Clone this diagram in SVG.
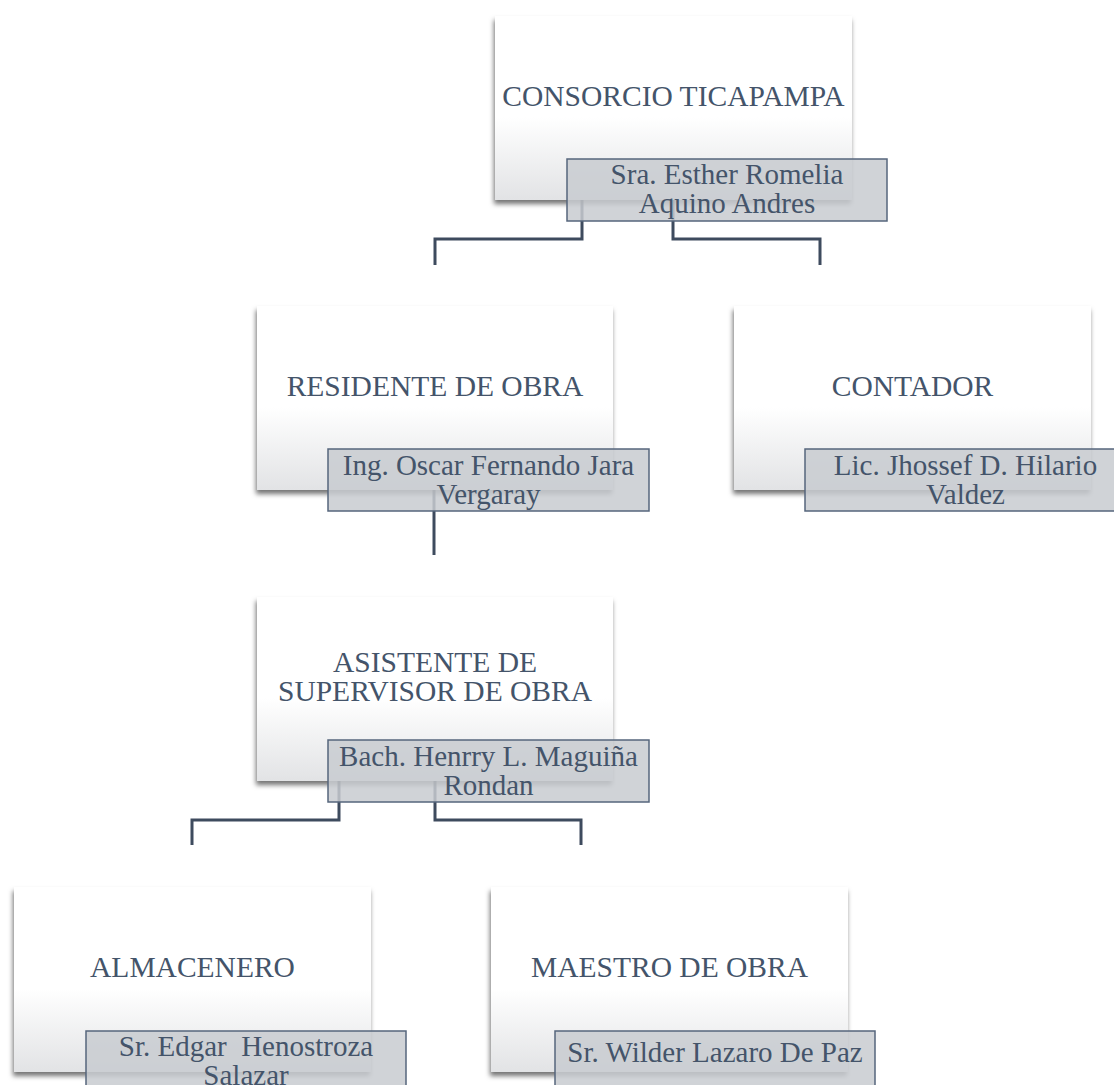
<svg xmlns="http://www.w3.org/2000/svg" width="1114" height="1085" viewBox="0 0 1114 1085">
<defs>
<linearGradient id="boxGrad" x1="0" y1="0" x2="0" y2="1">
<stop offset="0" stop-color="#ffffff"/>
<stop offset="0.55" stop-color="#ffffff"/>
<stop offset="1" stop-color="#e2e3e5"/>
</linearGradient>
<filter id="shadow" x="-10%" y="-10%" width="120%" height="130%">
<feDropShadow dx="-1" dy="4" stdDeviation="2.5" flood-color="#000" flood-opacity="0.55"/>
</filter>
</defs>
<style>
.box{fill:url(#boxGrad);filter:url(#shadow);}
.lab{fill:#c8cbd0;fill-opacity:0.85;stroke:#56667c;stroke-width:1.5;}
.t{font-family:"Liberation Serif","Times New Roman",serif;font-size:29px;fill:#44546a;text-anchor:middle;}
.h{font-size:29.5px;}
.c{fill:none;stroke:#3e4b5e;stroke-width:3;}
</style>
<rect width="1114" height="1085" fill="#ffffff"/>
<g id="connectors">
<path class="c" d="M582 200 V239 H435 V265"/>
<path class="c" d="M673 200 V239 H820 V265"/>
<path class="c" d="M434 490 V555"/>
<path class="c" d="M339 781 V820 H192 V845"/>
<path class="c" d="M435 781 V820 H581 V845"/>
</g>
<g id="node-consorcio">
<rect class="box" x="495" y="16" width="357" height="184"/>
<text class="t h" x="673.5" y="106">CONSORCIO TICAPAMPA</text>
<rect class="lab" x="567" y="159" width="320" height="62"/>
<text class="t" x="727" y="184">Sra. Esther Romelia</text>
<text class="t" x="727" y="213">Aquino Andres</text>
</g>
<g id="node-residente">
<rect class="box" x="257" y="306" width="356" height="184"/>
<text class="t h" x="435" y="396">RESIDENTE DE OBRA</text>
<rect class="lab" x="328" y="449" width="321" height="62"/>
<text class="t" x="488.5" y="475">Ing. Oscar Fernando Jara</text>
<text class="t" x="488.5" y="504">Vergaray</text>
</g>
<g id="node-contador">
<rect class="box" x="734" y="306" width="357" height="184"/>
<text class="t h" x="912.5" y="396">CONTADOR</text>
<rect class="lab" x="805" y="449" width="321" height="62"/>
<text class="t" x="965.5" y="475">Lic. Jhossef D. Hilario</text>
<text class="t" x="965.5" y="504">Valdez</text>
</g>
<g id="node-asistente">
<rect class="box" x="257" y="597" width="356" height="184"/>
<text class="t h" x="435" y="672">ASISTENTE DE</text>
<text class="t h" x="435" y="701">SUPERVISOR DE OBRA</text>
<rect class="lab" x="328" y="740" width="321" height="62"/>
<text class="t" x="488.5" y="766">Bach. Henrry L. Maguiña</text>
<text class="t" x="488.5" y="795">Rondan</text>
</g>
<g id="node-almacenero">
<rect class="box" x="14" y="887" width="357" height="185"/>
<text class="t h" x="192.5" y="977">ALMACENERO</text>
<rect class="lab" x="86" y="1031" width="320" height="62"/>
<text class="t" x="246" y="1056" xml:space="preserve">Sr. Edgar  Henostroza</text>
<text class="t" x="246" y="1085">Salazar</text>
</g>
<g id="node-maestro">
<rect class="box" x="491" y="887" width="357" height="185"/>
<text class="t h" x="669.5" y="977">MAESTRO DE OBRA</text>
<rect class="lab" x="555" y="1031" width="320" height="62"/>
<text class="t" x="715" y="1062">Sr. Wilder Lazaro De Paz</text>
</g>
</svg>
